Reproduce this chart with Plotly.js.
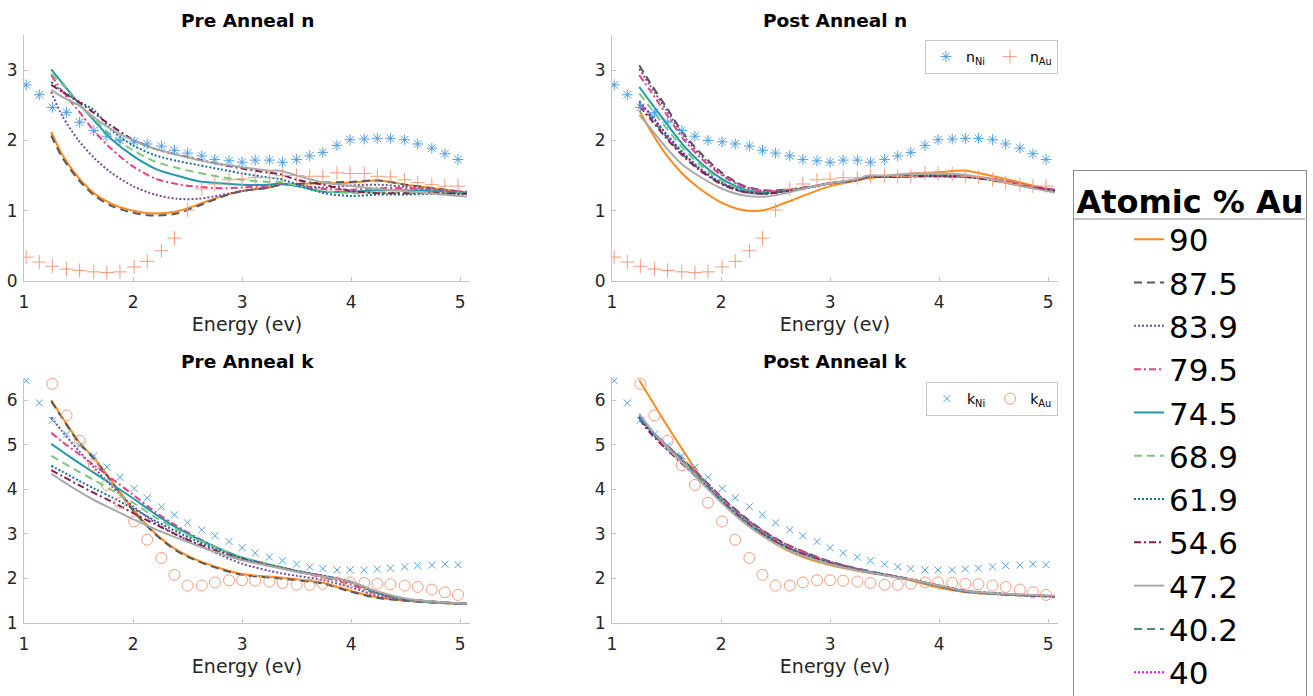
<!DOCTYPE html>
<html>
<head>
<meta charset="utf-8">
<script src="https://cdn.plot.ly/plotly-3.0.1.min.js"></script>
<style>html,body{margin:0;padding:0;background:#fff;}#chart{width:1313px;height:696px;}</style>
</head>
<body>
<div id="chart"></div>
<script>
// ---------- reference data (Ni and Au bulk optical constants) ----------
const E_REF = [1.02,1.14,1.26,1.39,1.51,1.64,1.76,1.88,2.01,2.13,2.26,2.38,2.50,2.63,2.75,2.88,3.00,3.12,3.25,3.37,3.50,3.62,3.74,3.87,3.99,4.12,4.24,4.36,4.49,4.61,4.74,4.86,4.98];
const N_NI = [2.79,2.65,2.47,2.40,2.26,2.14,2.06,2.00,1.98,1.95,1.92,1.86,1.82,1.78,1.73,1.71,1.69,1.72,1.72,1.69,1.73,1.78,1.83,1.93,2.01,2.02,2.03,2.03,2.01,1.95,1.89,1.81,1.73];
const N_AU = [0.34,0.27,0.21,0.17,0.15,0.13,0.12,0.13,0.20,0.28,0.43,0.61,1.01,1.31,1.38,1.44,1.45,1.47,1.47,1.50,1.50,1.49,1.49,1.54,1.53,1.53,1.49,1.48,1.44,1.40,1.37,1.35,1.35];
const K_NI = [6.44,5.94,5.55,5.24,4.98,4.75,4.50,4.27,4.02,3.81,3.61,3.43,3.25,3.09,2.96,2.83,2.69,2.57,2.48,2.40,2.32,2.26,2.22,2.19,2.19,2.19,2.21,2.23,2.26,2.29,2.30,2.32,2.31];
const E_REF_KAU = [1.26,1.39,1.51,1.64,1.76,1.88,2.01,2.13,2.26,2.38,2.50,2.63,2.75,2.88,3.00,3.12,3.25,3.37,3.50,3.62,3.74,3.87,3.99,4.12,4.24,4.36,4.49,4.61,4.74,4.86,4.98];
const K_AU = [6.37,5.66,5.09,4.54,4.10,3.70,3.28,2.87,2.46,2.08,1.84,1.84,1.91,1.96,1.96,1.95,1.93,1.90,1.86,1.86,1.88,1.91,1.91,1.90,1.88,1.87,1.84,1.81,1.75,1.69,1.63];

// ---------- film series ----------
const E = [1.25,1.35,1.5,1.65,1.8,2.0,2.2,2.4,2.6,2.8,3.0,3.25,3.35,3.5,3.75,4.0,4.25,4.5,4.75,5.06];
const COMPOSITIONS = ['90','87.5','83.9','79.5','74.5','68.9','61.9','54.6','47.2','40.2','40'];

// Pre-anneal n
const PRE_N_90   = [2.12,1.80,1.47,1.24,1.10,1.00,0.96,0.99,1.09,1.20,1.28,1.33,1.37,1.38,1.39,1.40,1.43,1.37,1.32,1.26];
const PRE_N_87_5 = [2.07,1.76,1.44,1.21,1.07,0.97,0.93,0.96,1.07,1.19,1.28,1.33,1.37,1.38,1.40,1.41,1.43,1.37,1.32,1.26];
const PRE_N_83_9 = [2.69,2.35,2.00,1.74,1.54,1.35,1.23,1.17,1.17,1.22,1.28,1.34,1.38,1.36,1.33,1.36,1.37,1.34,1.30,1.26];
const PRE_N_79_5 = [2.93,2.70,2.42,2.12,1.88,1.63,1.46,1.38,1.34,1.32,1.33,1.36,1.38,1.36,1.31,1.30,1.32,1.32,1.30,1.27];
const PRE_N_74_5 = [3.01,2.82,2.53,2.27,2.02,1.78,1.60,1.50,1.42,1.39,1.37,1.37,1.39,1.35,1.27,1.27,1.29,1.29,1.28,1.25];
const PRE_N_68_9 = [2.95,2.80,2.52,2.30,2.07,1.86,1.70,1.61,1.54,1.48,1.44,1.41,1.41,1.36,1.28,1.25,1.26,1.25,1.25,1.24];
const PRE_N_61_9 = [2.83,2.70,2.56,2.42,2.15,1.93,1.79,1.71,1.65,1.59,1.53,1.47,1.45,1.38,1.25,1.21,1.23,1.23,1.24,1.24];
const PRE_N_54_6 = [2.79,2.69,2.55,2.38,2.21,2.01,1.88,1.80,1.73,1.66,1.60,1.54,1.52,1.44,1.37,1.28,1.25,1.25,1.25,1.24];
const PRE_N_47_2 = [2.72,2.62,2.50,2.32,2.16,2.00,1.88,1.80,1.72,1.66,1.62,1.57,1.57,1.50,1.40,1.35,1.31,1.28,1.24,1.20];

// Post-anneal n
const POST_N_90   = [2.43,2.15,1.79,1.52,1.32,1.12,1.01,1.01,1.12,1.24,1.35,1.43,1.46,1.49,1.53,1.55,1.57,1.49,1.40,1.28];
const POST_N_87_5 = [3.07,2.82,2.47,2.11,1.84,1.55,1.36,1.29,1.30,1.34,1.39,1.44,1.49,1.48,1.49,1.50,1.49,1.45,1.37,1.29];
const POST_N_83_9 = [3.02,2.78,2.43,2.08,1.81,1.53,1.35,1.28,1.29,1.33,1.39,1.44,1.48,1.48,1.49,1.50,1.49,1.44,1.37,1.29];
const POST_N_79_5 = [2.93,2.71,2.37,2.03,1.77,1.51,1.34,1.28,1.29,1.33,1.39,1.44,1.49,1.48,1.49,1.49,1.48,1.45,1.38,1.30];
const POST_N_74_5 = [2.76,2.55,2.24,1.94,1.70,1.46,1.31,1.26,1.28,1.33,1.39,1.44,1.49,1.49,1.50,1.50,1.49,1.44,1.36,1.27];
const POST_N_68_9 = [2.67,2.47,2.17,1.89,1.66,1.43,1.29,1.25,1.28,1.33,1.39,1.44,1.49,1.49,1.50,1.51,1.50,1.44,1.36,1.27];
const POST_N_61_9 = [2.56,2.38,2.09,1.83,1.61,1.40,1.28,1.25,1.28,1.33,1.39,1.44,1.48,1.48,1.49,1.50,1.49,1.44,1.36,1.28];
const POST_N_54_6 = [2.49,2.31,2.03,1.78,1.58,1.38,1.27,1.24,1.28,1.33,1.39,1.44,1.49,1.48,1.49,1.49,1.48,1.43,1.36,1.28];
const POST_N_47_2 = [2.36,2.18,1.89,1.65,1.49,1.32,1.22,1.20,1.25,1.33,1.39,1.45,1.50,1.50,1.53,1.53,1.51,1.44,1.35,1.26];
const POST_N_40_2 = [2.52,2.34,2.05,1.80,1.59,1.39,1.27,1.24,1.28,1.33,1.39,1.44,1.49,1.48,1.49,1.49,1.48,1.43,1.36,1.28];
const POST_N_40   = [2.55,2.37,2.08,1.82,1.60,1.40,1.28,1.25,1.28,1.33,1.39,1.44,1.48,1.48,1.49,1.50,1.49,1.44,1.36,1.28];

// Pre-anneal k
const PRE_K_90   = [6.00,5.62,5.08,4.68,4.20,3.55,3.02,2.64,2.40,2.23,2.10,2.04,2.02,1.98,1.90,1.72,1.57,1.50,1.46,1.42];
const PRE_K_87_5 = [5.98,5.60,5.06,4.66,4.18,3.53,3.00,2.62,2.38,2.21,2.08,2.02,2.00,1.96,1.88,1.70,1.56,1.50,1.46,1.42];
const PRE_K_83_9 = [5.62,5.30,4.87,4.47,4.08,3.62,3.26,2.98,2.75,2.53,2.33,2.17,2.12,2.06,1.96,1.80,1.60,1.51,1.46,1.43];
const PRE_K_79_5 = [5.27,5.07,4.80,4.53,4.25,3.88,3.50,3.18,2.90,2.66,2.46,2.30,2.24,2.15,2.02,1.86,1.64,1.52,1.47,1.43];
const PRE_K_74_5 = [5.02,4.85,4.60,4.36,4.12,3.80,3.45,3.14,2.88,2.66,2.47,2.31,2.25,2.17,2.05,1.91,1.66,1.53,1.47,1.43];
const PRE_K_68_9 = [4.75,4.61,4.40,4.20,3.99,3.70,3.38,3.10,2.86,2.66,2.47,2.32,2.26,2.17,2.05,1.91,1.67,1.53,1.47,1.43];
const PRE_K_61_9 = [4.53,4.40,4.20,4.01,3.83,3.57,3.30,3.05,2.82,2.62,2.45,2.30,2.25,2.17,2.06,1.93,1.68,1.54,1.48,1.43];
const PRE_K_54_6 = [4.43,4.30,4.10,3.91,3.73,3.47,3.22,2.98,2.77,2.59,2.43,2.29,2.24,2.16,2.05,1.92,1.68,1.54,1.48,1.43];
const PRE_K_47_2 = [4.35,4.19,3.96,3.75,3.57,3.33,3.11,2.91,2.73,2.56,2.41,2.28,2.23,2.15,2.04,1.92,1.70,1.55,1.48,1.43];

// Post-anneal k
const POST_K_90   = [6.45,6.05,5.45,4.88,4.32,3.76,3.28,2.93,2.64,2.44,2.30,2.17,2.13,2.07,1.95,1.79,1.69,1.65,1.63,1.60];
const POST_K_87_5 = [5.62,5.35,5.00,4.67,4.32,3.84,3.41,3.05,2.77,2.56,2.38,2.22,2.17,2.09,1.97,1.82,1.70,1.65,1.62,1.59];
const POST_K_83_9 = [5.60,5.33,4.99,4.66,4.31,3.83,3.40,3.04,2.76,2.55,2.37,2.21,2.16,2.09,1.97,1.82,1.70,1.65,1.62,1.59];
const POST_K_79_5 = [5.63,5.34,4.99,4.65,4.30,3.81,3.38,3.03,2.75,2.55,2.37,2.22,2.16,2.09,1.98,1.83,1.71,1.66,1.63,1.60];
const POST_K_74_5 = [5.66,5.35,4.97,4.62,4.26,3.77,3.34,2.99,2.71,2.51,2.34,2.20,2.15,2.08,1.97,1.83,1.71,1.66,1.63,1.60];
const POST_K_68_9 = [5.68,5.36,4.97,4.61,4.25,3.76,3.33,2.98,2.70,2.50,2.34,2.19,2.14,2.08,1.97,1.83,1.71,1.66,1.63,1.60];
const POST_K_61_9 = [5.62,5.31,4.93,4.58,4.23,3.75,3.32,2.97,2.70,2.50,2.34,2.19,2.14,2.08,1.97,1.84,1.72,1.67,1.63,1.60];
const POST_K_54_6 = [5.58,5.27,4.90,4.56,4.21,3.73,3.30,2.96,2.69,2.50,2.34,2.19,2.14,2.08,1.97,1.84,1.72,1.67,1.63,1.60];
const POST_K_47_2 = [5.70,5.37,4.95,4.58,4.21,3.71,3.28,2.93,2.66,2.47,2.32,2.18,2.14,2.07,1.97,1.84,1.72,1.67,1.64,1.61];
const POST_K_40_2 = [5.64,5.33,4.95,4.60,4.24,3.75,3.32,2.97,2.70,2.50,2.34,2.19,2.14,2.08,1.97,1.84,1.72,1.66,1.63,1.60];
const POST_K_40   = [5.61,5.31,4.94,4.59,4.23,3.75,3.32,2.97,2.70,2.50,2.34,2.19,2.14,2.08,1.97,1.84,1.72,1.67,1.63,1.60];

// ---------- styling ----------
const FONT = 'DejaVu Sans, Liberation Sans, Arial, sans-serif';
const STYLES = [
  {color:'#ff8a1c', dash:'solid'},
  {color:'#585858', dash:'8px,5px'},
  {color:'#7a4d96', dash:'2px,2px'},
  {color:'#ec3d83', dash:'7px,3px,2px,3px'},
  {color:'#2199ab', dash:'solid'},
  {color:'#7ec77e', dash:'8px,5px'},
  {color:'#196f9c', dash:'2px,2px'},
  {color:'#8a1d4e', dash:'7px,3px,2px,3px'},
  {color:'#aaaaaa', dash:'solid'},
  {color:'#4b8d73', dash:'8px,5px'},
  {color:'#ff00ff', dash:'2px,2px'}
];
const NI_COLOR = '#4f9fe2';
const AU_COLOR = '#f39c7c';

const panels = [
  {xa:'x',  ya:'y',  series:[PRE_N_90,PRE_N_87_5,PRE_N_83_9,PRE_N_79_5,PRE_N_74_5,PRE_N_68_9,PRE_N_61_9,PRE_N_54_6,PRE_N_47_2,null,null], kind:'n'},
  {xa:'x2', ya:'y2', series:[POST_N_90,POST_N_87_5,POST_N_83_9,POST_N_79_5,POST_N_74_5,POST_N_68_9,POST_N_61_9,POST_N_54_6,POST_N_47_2,POST_N_40_2,POST_N_40], kind:'n'},
  {xa:'x3', ya:'y3', series:[PRE_K_90,PRE_K_87_5,PRE_K_83_9,PRE_K_79_5,PRE_K_74_5,PRE_K_68_9,PRE_K_61_9,PRE_K_54_6,PRE_K_47_2,null,null], kind:'k'},
  {xa:'x4', ya:'y4', series:[POST_K_90,POST_K_87_5,POST_K_83_9,POST_K_79_5,POST_K_74_5,POST_K_68_9,POST_K_61_9,POST_K_54_6,POST_K_47_2,POST_K_40_2,POST_K_40], kind:'k'}
];

const data = [];
// composition curves; 40.2 and 40 drawn first so they sit underneath the bundle
const DRAW_ORDER = [9,10,0,1,2,3,4,5,6,7,8];
panels.forEach((p, pi) => {
  DRAW_ORDER.forEach(i => {
    const ys = p.series[i];
    if (!ys) return;
    data.push({
      type:'scatter', mode:'lines', x:E, y:ys,
      xaxis:p.xa, yaxis:p.ya, name:COMPOSITIONS[i], legend:'legend', legendrank:i+1,
      showlegend:(pi === 1), hoverinfo:'skip',
      line:{color:STYLES[i].color, dash:STYLES[i].dash, width:2, shape:'spline', smoothing:0.8}
    });
  });
});
// reference markers (on top)
panels.forEach((p, pi) => {
  const show = (pi === 1 || pi === 3);
  if (p.kind === 'n') {
    data.push({type:'scatter', mode:'markers', x:E_REF, y:N_NI, xaxis:p.xa, yaxis:p.ya,
      name:'n<sub>Ni</sub>', legend:'legend2', showlegend:show, hoverinfo:'skip',
      marker:{symbol:'asterisk-open', size:9, color:NI_COLOR, line:{color:NI_COLOR, width:1}}});
    data.push({type:'scatter', mode:'markers', x:E_REF, y:N_AU, xaxis:p.xa, yaxis:p.ya,
      name:'n<sub>Au</sub>', legend:'legend2', showlegend:show, hoverinfo:'skip',
      marker:{symbol:'cross-thin-open', size:10, color:AU_COLOR, line:{color:AU_COLOR, width:1}}});
  } else {
    data.push({type:'scatter', mode:'markers', x:E_REF, y:K_NI, xaxis:p.xa, yaxis:p.ya,
      name:'k<sub>Ni</sub>', legend:'legend3', showlegend:show, hoverinfo:'skip',
      marker:{symbol:'x-thin-open', size:7, color:NI_COLOR, line:{color:NI_COLOR, width:1}}});
    data.push({type:'scatter', mode:'markers', x:E_REF_KAU, y:K_AU, xaxis:p.xa, yaxis:p.ya,
      name:'k<sub>Au</sub>', legend:'legend3', showlegend:show, hoverinfo:'skip',
      marker:{symbol:'circle-open', size:11, color:AU_COLOR, line:{color:AU_COLOR, width:1}}});
  }
});

const W = 1313, H = 696;
const px = v => v / W;
const py = v => 1 - v / H;

function xAxis(domain, anchor) {
  return {domain, anchor, range:[1, 5.09], tickvals:[1,2,3,4,5], showline:true, linecolor:'#c4c4c4', linewidth:1,
    ticks:'inside', ticklen:4, tickcolor:'#c4c4c4', showgrid:false, zeroline:false,
    tickfont:{family:FONT, size:17, color:'#262626'}, ticklabelstandoff:6,
    title:{text:'Energy (ev)', font:{family:FONT, size:19, color:'#262626'}, standoff:6}};
}
function yAxis(domain, anchor, range, vals) {
  return {domain, anchor, range, tickvals:vals, showline:true, linecolor:'#c4c4c4', linewidth:1,
    ticks:'inside', ticklen:4, tickcolor:'#c4c4c4', showgrid:false, zeroline:false,
    tickfont:{family:FONT, size:17, color:'#262626'}, ticklabelstandoff:2};
}

const XL = [px(24), px(470)], XR = [px(612), px(1058)];
const YT = [py(281), py(35)], YB = [py(623), py(378)];

const titleAnn = (text, xc, yc) => ({text:'<b>'+text+'</b>', x:px(xc), y:py(yc), xref:'paper', yref:'paper',
  xanchor:'center', yanchor:'middle', showarrow:false, font:{family:FONT, size:18.5, color:'#000'}});

const layout = {
  width:W, height:H, margin:{l:0, r:0, t:0, b:0, autoexpand:false},
  paper_bgcolor:'#fff', plot_bgcolor:'rgba(0,0,0,0)',
  font:{family:FONT},
  xaxis: xAxis(XL, 'y'),  yaxis: yAxis(YT, 'x',  [0, 3.5], [0,1,2,3]),
  xaxis2:xAxis(XR, 'y2'), yaxis2:yAxis(YT, 'x2', [0, 3.5], [0,1,2,3]),
  xaxis3:xAxis(XL, 'y3'), yaxis3:yAxis(YB, 'x3', [1, 6.5], [1,2,3,4,5,6]),
  xaxis4:xAxis(XR, 'y4'), yaxis4:yAxis(YB, 'x4', [1, 6.5], [1,2,3,4,5,6]),
  annotations:[
    titleAnn('Pre Anneal n', 247, 20), titleAnn('Post Anneal n', 835, 20),
    titleAnn('Pre Anneal k', 247, 362), titleAnn('Post Anneal k', 835, 362)
  ],
  legend:{x:px(1073), y:py(170), xanchor:'left', yanchor:'top', orientation:'v',
    bgcolor:'rgba(255,255,255,0)', bordercolor:'#8c8c8c', borderwidth:1,
    font:{family:FONT, size:31, color:'#000'}, indentation:55, itemwidth:30, traceorder:'normal',
    title:{text:'<b>Atomic % Au</b>', side:'top center', font:{family:FONT, size:32, color:'#000'}}},
  legend2:{x:px(1058), y:py(40), xanchor:'right', yanchor:'top', orientation:'h',
    bgcolor:'#fff', bordercolor:'#c8c8c8', borderwidth:1, itemwidth:30,
    font:{family:FONT, size:14, color:'#000'}},
  legend3:{x:px(1058), y:py(382), xanchor:'right', yanchor:'top', orientation:'h',
    bgcolor:'#fff', bordercolor:'#c8c8c8', borderwidth:1, itemwidth:30,
    font:{family:FONT, size:14, color:'#000'}},
  shapes:[
    {type:'line', xref:'paper', yref:'paper', x0:px(1073), x1:px(1305), y0:py(219), y1:py(219),
     line:{color:'#8c8c8c', width:1}}
  ]
};

Plotly.newPlot('chart', data, layout, {displayModeBar:false, staticPlot:true});
</script>
</body>
</html>
